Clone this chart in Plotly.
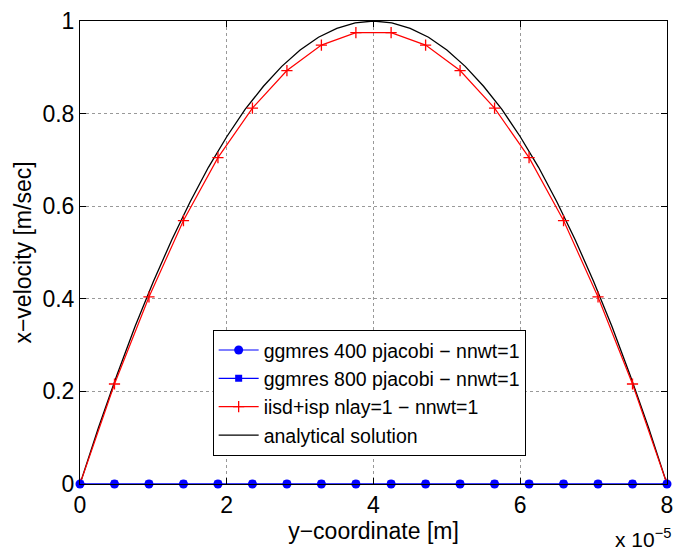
import plotly.graph_objects as go

# y-coordinate nodes (units of 1e-5 m)
x_nodes = [0, 0.47, 0.94, 1.41, 1.88, 2.35, 2.82, 3.29, 3.76,
           4.24, 4.71, 5.18, 5.65, 6.12, 6.59, 7.06, 7.53, 8.0]
ggmres400 = [0] * 18
ggmres800 = [0] * 18
iisd = [0, 0.216, 0.404, 0.569, 0.705, 0.812, 0.893, 0.948, 0.975,
        0.975, 0.948, 0.893, 0.812, 0.705, 0.569, 0.404, 0.216, 0]

x_ana = [0, 0.25, 0.5, 0.75, 1, 1.25, 1.5, 1.75, 2, 2.25, 2.5, 2.75, 3, 3.25,
         3.5, 3.75, 4, 4.25, 4.5, 4.75, 5, 5.25, 5.5, 5.75, 6, 6.25, 6.5,
         6.75, 7, 7.25, 7.5, 7.75, 8]
y_ana = [0, 0.121, 0.234, 0.340, 0.4375, 0.527, 0.609, 0.684, 0.75, 0.809,
         0.859, 0.902, 0.9375, 0.965, 0.984, 0.996, 1.0, 0.996, 0.984, 0.965,
         0.9375, 0.902, 0.859, 0.809, 0.75, 0.684, 0.609, 0.527, 0.4375,
         0.340, 0.234, 0.121, 0]

x_ticks = [0, 2, 4, 6, 8]
y_ticks = [0, 0.2, 0.4, 0.6, 0.8, 1]
y_ticklabels = ["0", "0.2", "0.4", "0.6", "0.8", "1"]

FONT = "Liberation Sans, Arial, Helvetica, sans-serif"

fig = go.Figure()
fig.add_trace(go.Scatter(x=x_ana, y=y_ana, mode="lines", name="analytical solution",
                         line=dict(color="black", width=1.3), legendrank=4))
fig.add_trace(go.Scatter(x=x_nodes, y=iisd, mode="lines+markers",
                         name="iisd+isp nlay=1 \u2212 nnwt=1",
                         line=dict(color="red", width=1.2),
                         marker=dict(symbol="cross-thin", size=8,
                                     line=dict(color="red", width=1.3)),
                         legendrank=3))
fig.add_trace(go.Scatter(x=x_nodes, y=ggmres800, mode="lines+markers",
                         name="ggmres 800 pjacobi \u2212 nnwt=1",
                         line=dict(color="blue", width=1.2),
                         marker=dict(symbol="square", size=7, color="blue"),
                         legendrank=2))
fig.add_trace(go.Scatter(x=x_nodes, y=ggmres400, mode="lines+markers",
                         name="ggmres 400 pjacobi \u2212 nnwt=1",
                         line=dict(color="blue", width=1.2),
                         marker=dict(symbol="circle", size=9, color="blue"),
                         legendrank=1, cliponaxis=False))

axis_common = dict(showline=True, linecolor="black", linewidth=1, mirror="ticks",
                   ticks="inside", ticklen=6, tickcolor="black",
                   showgrid=True, gridcolor="#999999", griddash="dot", gridwidth=1,
                   zeroline=False, tickfont=dict(size=23, color="black"))

fig.update_xaxes(range=[0, 8], tickvals=x_ticks, ticktext=[str(v) for v in x_ticks],
                 title=dict(text="y\u2212coordinate [m]", font=dict(size=23, color="black"),
                            standoff=0),
                 **axis_common)
fig.update_yaxes(range=[0, 1], tickvals=y_ticks, ticktext=y_ticklabels,
                 title=dict(text="x\u2212velocity [m/sec]", font=dict(size=23, color="black"),
                            standoff=4),
                 **axis_common)

fig.update_layout(
    width=681, height=553,
    margin=dict(l=80, r=8, t=15, b=69),
    paper_bgcolor="white", plot_bgcolor="white",
    font=dict(family=FONT, color="black"),
    showlegend=True,
    legend=dict(x=0.226, y=0.333, xanchor="left", yanchor="top",
                bgcolor="white", bordercolor="black", borderwidth=1,
                font=dict(size=19.5, color="black"), tracegroupgap=0,
                itemwidth=40),
    annotations=[dict(text="x 10<sup>\u22125</sup>", xref="paper", yref="paper",
                      x=1.01, y=-0.085, xanchor="right", yanchor="top",
                      showarrow=False, font=dict(size=21, color="black"))],
)

fig.write_html("out.html")
